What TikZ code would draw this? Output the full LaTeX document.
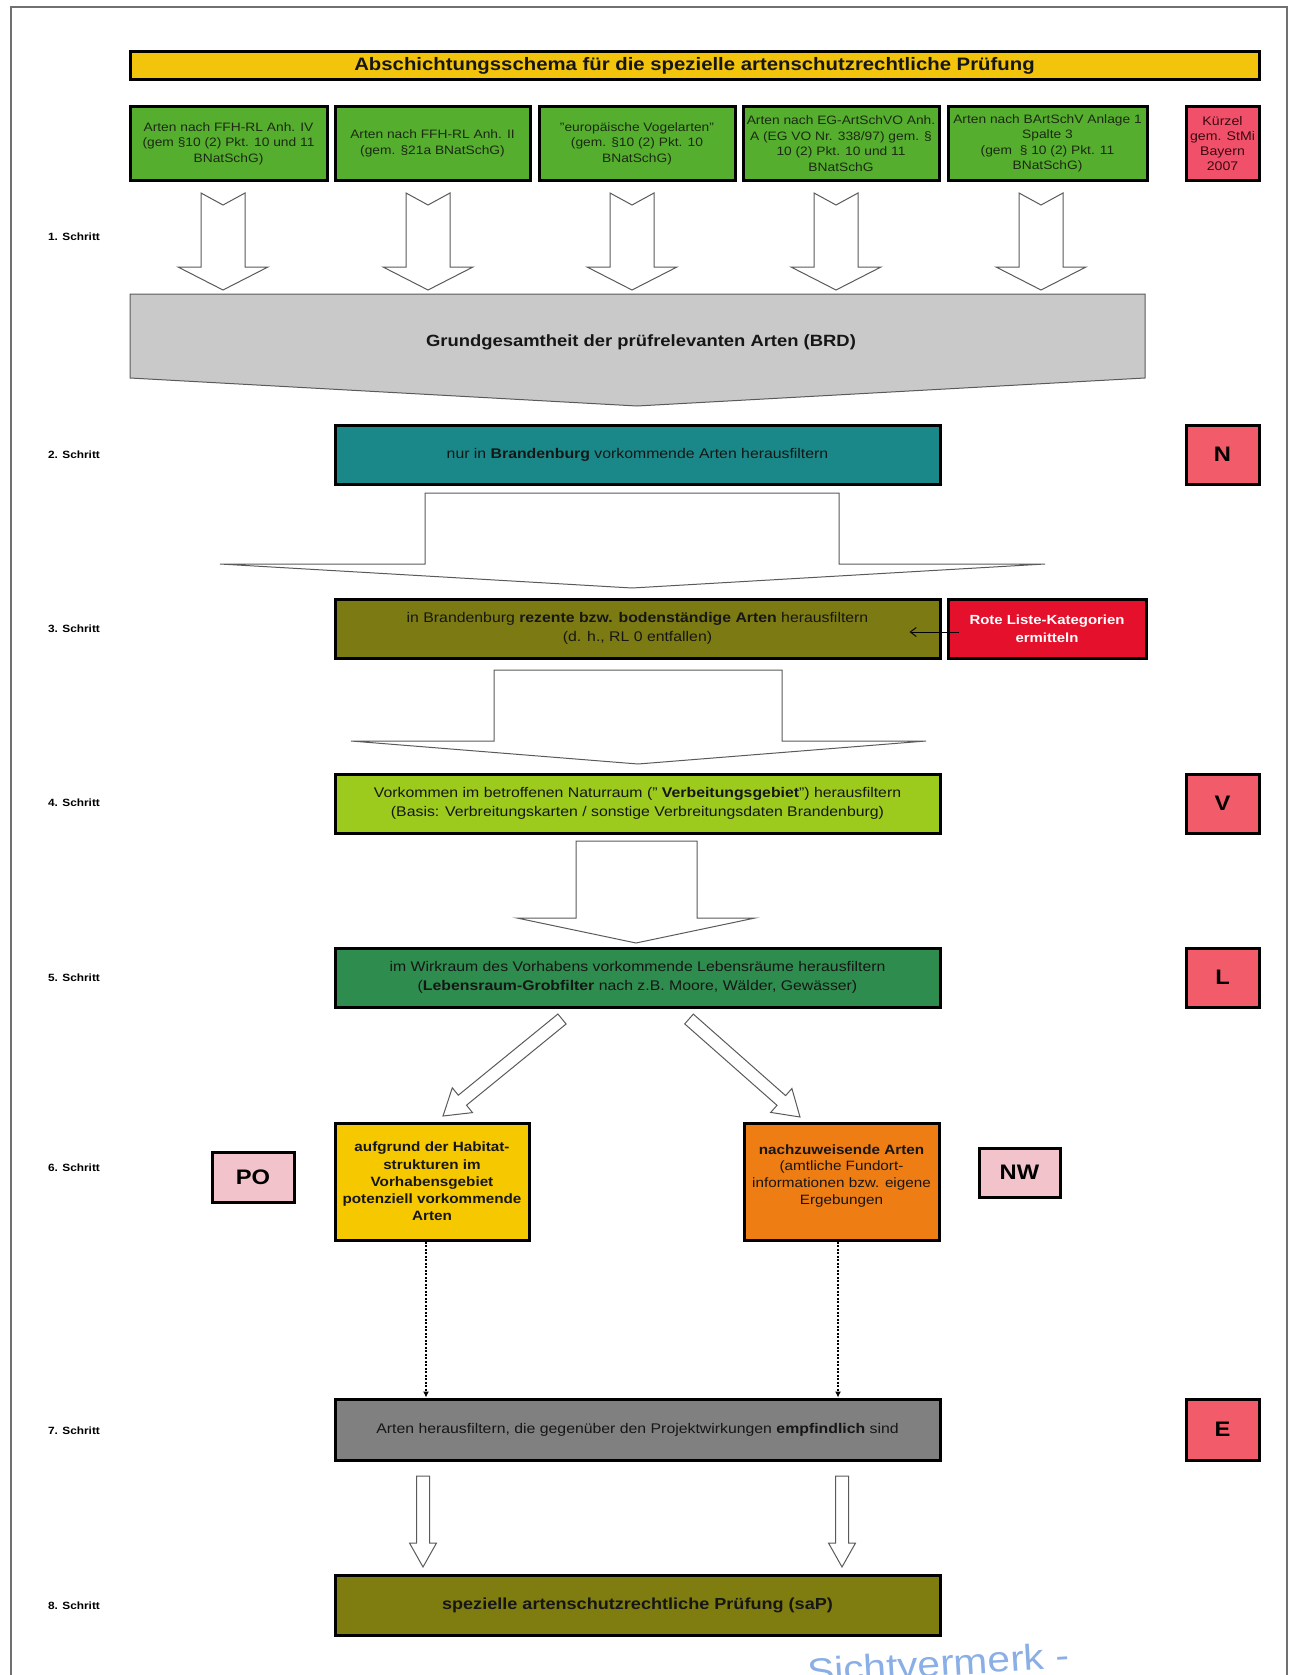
\documentclass[tikz,border=0pt]{standalone}
\usepackage{fontspec}
\setmainfont{Liberation Sans}[FakeStretch=1.13]
\usetikzlibrary{calc,arrows.meta}
\definecolor{titleY}{HTML}{F2C40C}
\definecolor{grn}{HTML}{56AE2E}
\definecolor{kzred}{HTML}{F0506A}
\definecolor{teal2}{HTML}{1A8888}
\definecolor{olive3}{HTML}{7C7A12}
\definecolor{rlred}{HTML}{E5102B}
\definecolor{yg}{HTML}{9CCB1E}
\definecolor{grn5}{HTML}{2E8C4E}
\definecolor{yel}{HTML}{F6C800}
\definecolor{org}{HTML}{EE7D14}
\definecolor{pink}{HTML}{F3C3CB}
\definecolor{gry7}{HTML}{808080}
\definecolor{olive8}{HTML}{7F7C10}
\definecolor{salmon}{HTML}{F25C6A}
\definecolor{grayarrow}{HTML}{C9C9C9}
\definecolor{arrline}{HTML}{5A5A5A}
\definecolor{txt}{HTML}{161616}
\definecolor{gtxt}{HTML}{1C2A14}
\definecolor{kztxt}{HTML}{3A0A10}
\definecolor{framegray}{HTML}{707070}
\definecolor{stampblue}{HTML}{8AAEE6}
\newcommand\myfs[2]{\fontsize{#1}{#2}\selectfont}
\begin{document}
\begin{tikzpicture}[x=1pt,y=-1pt,
  box/.style={draw=black,line width=3pt,inner sep=0pt,align=center,text=txt},
  gbox/.style={box,fill=grn,minimum height=73pt,font=\myfs{12.2}{15.5},text=gtxt},
  blk/.style={draw=arrline,line width=1pt,fill=white,line join=miter},
  steplbl/.style={font=\bfseries\myfs{10.5}{12},text=black},
  bigl/.style={box,fill=salmon,minimum width=73pt,font=\bfseries\myfs{21}{24},text=black},
  stepbox/.style={box,minimum width=605pt,minimum height=59pt,font=\myfs{14}{18.5}},
  dots/.style={line width=1.4pt,dash pattern=on 2.2pt off 1.3pt,-{Latex[length=6pt,width=6pt]}}
]
\useasboundingbox (0,0) rectangle (1290,1675);
\clip (0,0) rectangle (1290,1675);
% frame
\draw[draw=framegray,line width=1.5pt] (11,1690) -- (11,7) -- (1287,7) -- (1287,1690);

% title
\node[box,fill=titleY,minimum width=1129pt,minimum height=28pt,font=\bfseries\myfs{18}{20}] (title) at (694.5,66) {Abschichtungsschema für die spezielle artenschutzrechtliche Prüfung};

% top boxes
\node[gbox,minimum width=197pt] (g1) at (228.5,143.5) {Arten nach FFH-RL Anh. IV\\(gem §10 (2) Pkt. 10 und 11\\BNatSchG)};
\node[gbox,minimum width=195pt] (g2) at (432.5,143.5) {Arten nach FFH-RL Anh. II\\(gem. §21a BNatSchG)};
\node[gbox,minimum width=196pt] (g3) at (637,143.5) {"europäische Vogelarten"\\(gem. §10 (2) Pkt. 10\\BNatSchG)};
\node[gbox,minimum width=196pt] (g4) at (841,143.5) {Arten nach EG-ArtSchVO Anh.\\A (EG VO Nr. 338/97) gem. §\\10 (2) Pkt. 10 und 11\\BNatSchG};
\node[gbox,minimum width=199pt] (g5) at (1047.5,143.5) {Arten nach BArtSchV Anlage 1\\Spalte 3\\(gem~ § 10 (2) Pkt. 11\\BNatSchG)};
\node[box,fill=kzred,minimum width=73pt,minimum height=73pt,font=\myfs{12.5}{14.7},text=kztxt] (kz) at (1222.5,143.5) {Kürzel\\gem. StMi\\Bayern\\2007};

% step labels
\node[steplbl] (l1) at (74,237) {1. Schritt};
\node[steplbl] (l2) at (74,455) {2. Schritt};
\node[steplbl] (l3) at (74,629) {3. Schritt};
\node[steplbl] (l4) at (74,803) {4. Schritt};
\node[steplbl] (l5) at (74,978) {5. Schritt};
\node[steplbl] (l6) at (74,1168) {6. Schritt};
\node[steplbl] (l7) at (74,1431) {7. Schritt};
\node[steplbl] (l8) at (74,1606) {8. Schritt};

% step 1 arrows
\foreach \c in {223,428,632,836,1041}{
  \draw[blk] ({\c-22},193) -- (\c,205) -- ({\c+22},193) -- ({\c+22},267) -- ({\c+45},267) -- (\c,290) -- ({\c-45},267) -- ({\c-22},267) -- cycle;
}

% big gray arrow
\draw[draw=arrline,line width=1pt,fill=grayarrow] (130,294) -- (1145,294) -- (1145,378) -- (637,406) -- (130,378) -- cycle;
\node[font=\bfseries\myfs{16.3}{18},text=txt] (gg) at (641,342) {Grundgesamtheit der prüfrelevanten Arten (BRD)};

% step 2
\node[stepbox,fill=teal2] (s2) at (637.5,454.5) {nur in \textbf{Brandenburg} vorkommende Arten herausfiltern};
\node[bigl,minimum height=59pt] (N) at (1222.5,454.5) {N};

\draw[blk] (425,493) -- (839,493) -- (839,564) -- (1045,564) -- (632,588) -- (220,564) -- (425,564) -- cycle;

% step 3
\node[stepbox,fill=olive3] (s3) at (637.5,628.5) {in Brandenburg \textbf{rezente bzw. bodenständige Arten} herausfiltern\\(d. h., RL 0 entfallen)};
\node[box,fill=rlred,minimum width=198pt,minimum height=59pt,font=\bfseries\myfs{13.2}{18},text=white] (rl) at (1047,628.5) {Rote Liste-Kategorien\\ermitteln};
\draw[line width=0.9pt,-{Straight Barb[length=6pt,width=9pt]}] ($(rl.west)+(12,3.5)$) -- ($(s3.east)+(-32,3.5)$);

\draw[blk] (494,670) -- (782,670) -- (782,741) -- (926,741) -- (638,764) -- (351,741) -- (494,741) -- cycle;

% step 4
\node[stepbox,fill=yg] (s4) at (637.5,803.5) {Vorkommen im betroffenen Naturraum (" \textbf{Verbeitungsgebiet}") herausfiltern\\(Basis: Verbreitungskarten / sonstige Verbreitungsdaten Brandenburg)};
\node[bigl,minimum height=59pt] (V) at (1222.5,803.5) {V};

\draw[blk] (576,841) -- (697,841) -- (697,918) -- (755,918) -- (636,943) -- (517,918) -- (576,918) -- cycle;

% step 5
\node[stepbox,fill=grn5] (s5) at (637.5,977.5) {im Wirkraum des Vorhabens vorkommende Lebensräume herausfiltern\\(\textbf{Lebensraum-Grobfilter} nach z.B. Moore, Wälder, Gewässer)};
\node[bigl,minimum height=59pt] (L) at (1222.5,977.5) {L};

% diagonal arrows
\draw[blk] (557.9,1014.0) -- (458.3,1095.2) -- (452.3,1087.8) -- (443,1116) -- (472.5,1112.6) -- (466.5,1105.2) -- (566.1,1024.0) -- cycle;
\draw[blk] (693.3,1014.1) -- (785.6,1095.6) -- (791.9,1088.5) -- (800,1117) -- (770.7,1112.4) -- (777.0,1105.3) -- (684.7,1023.9) -- cycle;

% step 6
\node[box,fill=pink,minimum width=82pt,minimum height=50pt,font=\bfseries\myfs{21}{24},text=black] (po) at (253,1177) {PO};
\node[box,fill=yel,minimum width=194pt,minimum height=117pt,font=\bfseries\myfs{13.5}{17.3}] (yel) at (432,1181.5) {aufgrund der Habitat-\\strukturen im\\Vorhabensgebiet\\potenziell vorkommende\\Arten};
\node[box,fill=org,minimum width=195pt,minimum height=117pt,font=\myfs{13.5}{16.6}] (org) at (841.5,1181.5) {\textbf{nachzuweisende Arten}\\(amtliche Fundort-\\informationen bzw. eigene\\Ergebungen\\[-2pt]\mbox{}};
\node[box,fill=pink,minimum width=81pt,minimum height=49pt,font=\bfseries\myfs{21}{24},text=black] (nw) at (1019.5,1172.5) {NW};

% step 7
\node[stepbox,fill=gry7,minimum height=61pt] (s7) at (637.5,1429.5) {Arten herausfiltern, die gegenüber den Projektwirkungen \textbf{empfindlich} sind};
\node[bigl,minimum height=61pt] (E) at (1222.5,1429.5) {E};

\coordinate (dl) at (426,0);
\coordinate (dr) at (838,0);
\draw[dots] (yel.south -| dl) -- (s7.north -| dl);
\draw[dots] (org.south -| dr) -- (s7.north -| dr);

\foreach \c in {423,842}{
  \draw[blk] ({\c-6.5},1476) -- ({\c+6.5},1476) -- ({\c+6.5},1543) -- ({\c+13.5},1543) -- (\c,1567) -- ({\c-13.5},1543) -- ({\c-6.5},1543) -- cycle;
}

% step 8
\node[stepbox,fill=olive8,minimum height=60pt,font=\bfseries\myfs{16}{18}] (s8) at (637.5,1605) {spezielle artenschutzrechtliche Prüfung (saP)};

% stamp
\node[anchor=base west,rotate=3.5,text=stampblue,font=\myfs{36}{36},inner sep=0pt] (stamp) at (808,1684) {Sichtvermerk -};
\end{tikzpicture}
\end{document}
